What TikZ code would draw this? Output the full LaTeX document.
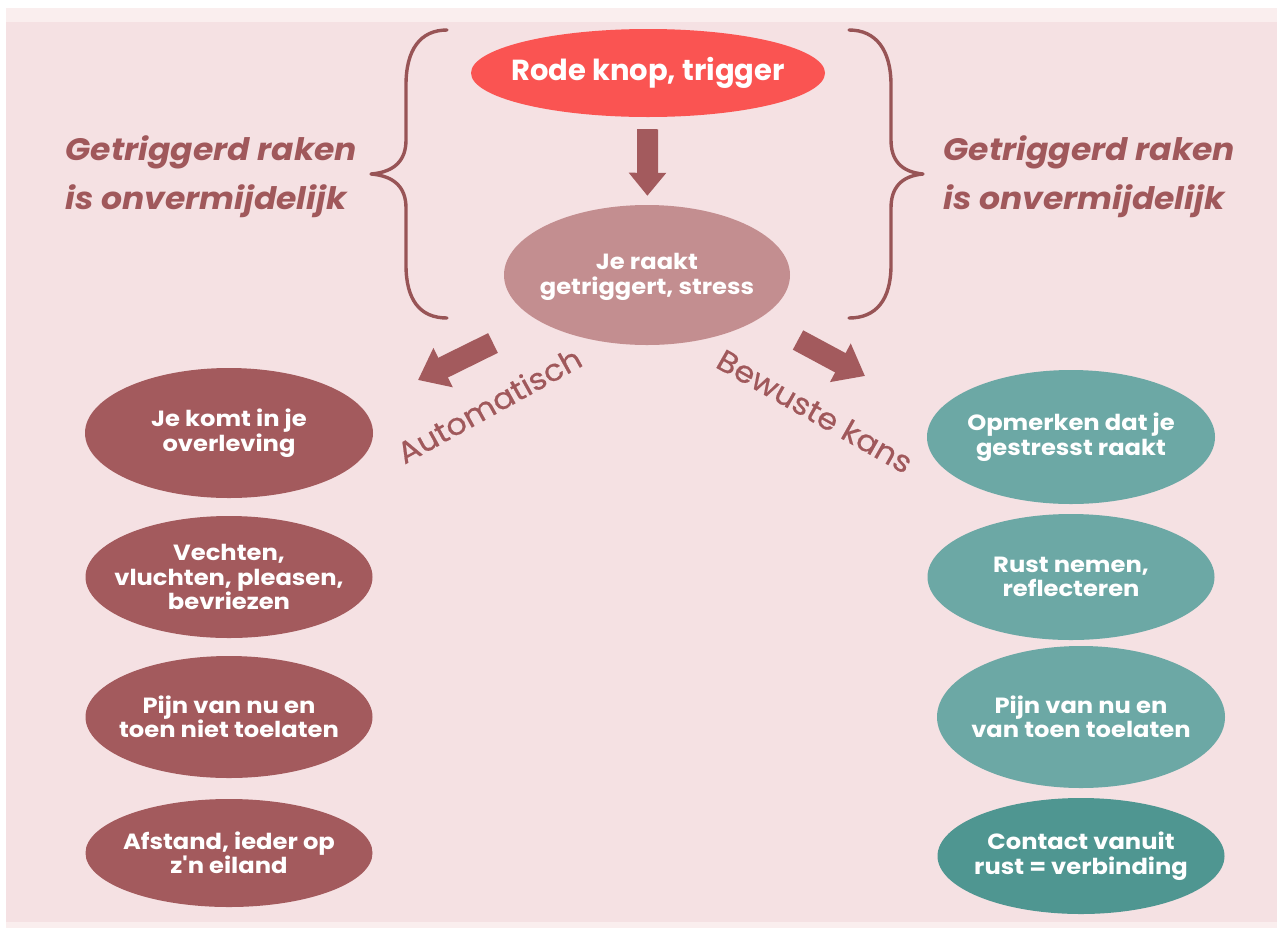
\documentclass[tikz,border=0pt]{standalone}
\usepackage{fontspec}
\setmainfont{Poppins}
\newfontfamily\widesans{Poppins}[FakeStretch=1.1]
\newfontfamily\notesans{Poppins}[FakeStretch=1.065]
\newfontfamily\routesans{Poppins}[FakeStretch=1.07,FakeBold=0.6]
\usetikzlibrary{shapes.geometric,arrows.meta}

\definecolor{pagepink}{HTML}{F5E1E3}
\definecolor{paleband}{HTML}{FAEEEE}
\definecolor{triggerred}{HTML}{FA5452}
\definecolor{stressrose}{HTML}{C38E90}
\definecolor{darkrose}{HTML}{A35A5D}
\definecolor{roseink}{HTML}{A0585B}
\definecolor{tealmid}{HTML}{6CA8A5}
\definecolor{tealdeep}{HTML}{4F9691}

\begin{document}
\begin{tikzpicture}[x=1pt,y=-1pt,
  blob/.style 2 args={ellipse, inner sep=0pt, minimum width=#1, minimum height=#2},
  boxtext/.style={text=white, align=center, font=\widesans\fontsize{22}{24.5}\selectfont\bfseries},
  sidetext/.style={text=roseink, align=left, anchor=base west,
    font=\notesans\fontsize{31}{49}\selectfont\bfseries\itshape},
  pathword/.style={text=roseink, font=\routesans\fontsize{30}{36}\selectfont},
  bigarrow/.style={draw=darkrose, line width=22pt, -{Triangle[width=42pt,length=28pt]}},
  downarrow/.style={draw=darkrose, line width=21pt, -{Triangle[width=36pt,length=23pt]}},
  bracestroke/.style={draw=roseink!95!black, line width=3.4pt, line cap=round, line join=round}]

% page and background bands
\useasboundingbox (0,0) rectangle (1277,930);
\fill[white] (0,0) rectangle (1277,930);
\fill[paleband] (6,8) rectangle (1277,928);
\fill[pagepink] (6,22) rectangle (1277,922);

% top of the chain
\node[blob={354pt}{88pt}, fill=triggerred] (trig) at (648,73) {};
\node[text=white, font=\fontsize{29}{32}\selectfont\bfseries] (trigtxt) at (trig.center) {Rode knop, trigger};

\node[blob={286pt}{140pt}, fill=stressrose] (stress) at (647,275) {};
\node[boxtext, anchor=center] (stresstxt) at (647,277) {Je raakt\\getriggert, stress};

\draw[downarrow, shorten <=12pt, shorten >=9pt] (trig) -- (stress);

% braces on both sides
\draw[bracestroke] (447,30) .. controls (420,30) and (406,50) .. (406,85) -- (406,140)
  .. controls (406,160) and (395,172) .. (371,174)
  .. controls (395,176) and (406,188) .. (406,208) -- (406,265)
  .. controls (406,300) and (420,318) .. (447,318);
\draw[bracestroke] (849,30) .. controls (876,30) and (891,50) .. (891,85) -- (891,140)
  .. controls (891,160) and (901,172) .. (923,174)
  .. controls (901,176) and (891,188) .. (891,208) -- (891,265)
  .. controls (891,300) and (876,318) .. (849,318);

\node[sidetext] (leftnote) at (62,209) {Getriggerd raken\\is onvermijdelijk};
\node[sidetext] (rightnote) at (940,209) {Getriggerd raken\\is onvermijdelijk};

% the two routes
\coordinate (autostart) at (493,343);
\coordinate (autoend) at (418,380);
\coordinate (awarestart) at (798,340);
\coordinate (awareend) at (865,376);
\draw[bigarrow] (autostart) -- (autoend);
\draw[bigarrow] (awarestart) -- (awareend);

\node[pathword, rotate=29] (autoword) at (489,405) {Automatisch};
\node[pathword, rotate=-29.5] (awareword) at (815,411) {Bewuste kans};

% automatic column
\node[blob={288pt}{130pt}, fill=darkrose] (a1) at (229,433) {};
\node[boxtext] at (a1.center) {Je komt in je\\overleving};
\node[blob={287pt}{122pt}, fill=darkrose] (a2) at (229,577) {};
\node[boxtext] at (a2.center) {Vechten,\\vluchten, pleasen,\\bevriezen};
\node[blob={287pt}{122pt}, fill=darkrose] (a3) at (229,717) {};
\node[boxtext] at (a3.center) {Pijn van nu en\\toen niet toelaten};
\node[blob={287pt}{108pt}, fill=darkrose] (a4) at (229,853) {};
\node[boxtext] at (a4.center) {Afstand, ieder op\\z'n eiland};

% conscious column
\node[blob={288pt}{134pt}, fill=tealmid] (b1) at (1071,437) {};
\node[boxtext] at (b1.center) {Opmerken dat je\\gestresst raakt};
\node[blob={287pt}{126pt}, fill=tealmid] (b2) at (1071,577) {};
\node[boxtext] at (b2.center) {Rust nemen,\\reflecteren};
\node[blob={288pt}{142pt}, fill=tealmid] (b3) at (1081,717) {};
\node[boxtext] at (b3.center) {Pijn van nu en\\van toen toelaten};
\node[blob={287pt}{116pt}, fill=tealdeep] (b4) at (1081,856) {};
\node[boxtext] at (b4.center) {Contact vanuit\\rust = verbinding};

\end{tikzpicture}
\end{document}
